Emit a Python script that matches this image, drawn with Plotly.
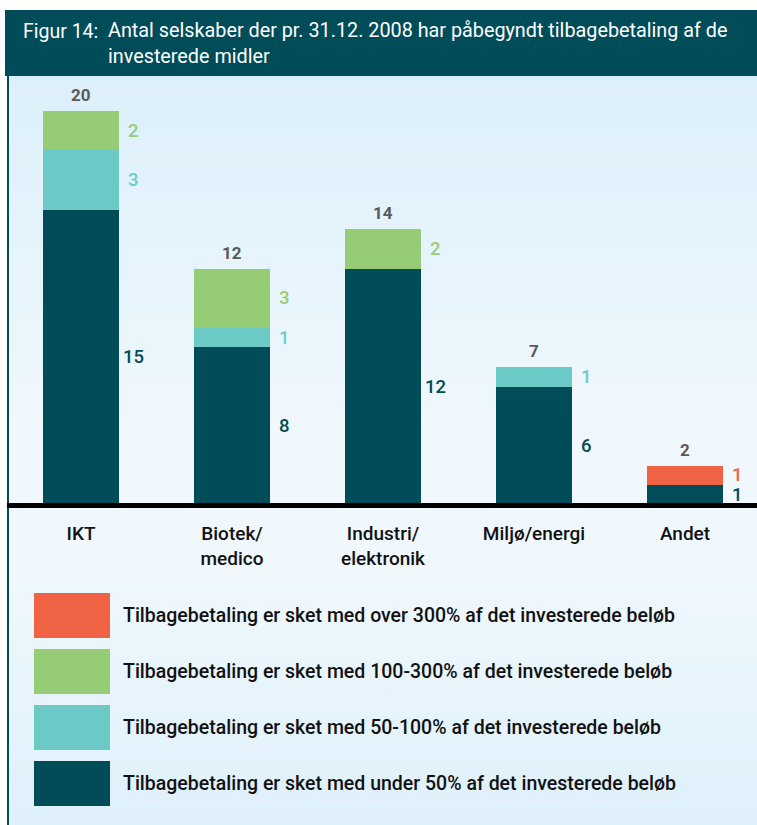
import plotly.graph_objects as go

# ---------------------------
# Data
# ---------------------------
categories = ["IKT", "Biotek/<br>medico", "Industri/<br>elektronik", "Miljø/energi", "Andet"]
under_50 = [15, 8, 12, 6, 1]
pct_50_100 = [3, 1, 0, 1, 0]
pct_100_300 = [2, 3, 2, 0, 0]
over_300 = [0, 0, 0, 0, 1]

series_names = [
    "Tilbagebetaling er sket med under 50% af det investerede beløb",
    "Tilbagebetaling er sket med 50-100% af det investerede beløb",
    "Tilbagebetaling er sket med 100-300% af det investerede beløb",
    "Tilbagebetaling er sket med over 300% af det investerede beløb",
]
series_values = [under_50, pct_50_100, pct_100_300, over_300]
series_colors = ["#004c59", "#6ccac6", "#97cc76", "#f06244"]

title_prefix = "Figur 14:"
title_text = "Antal selskaber der pr. 31.12. 2008 har påbegyndt tilbagebetaling af de<br>investerede midler"

W, H = 757, 825
FONT = "Roboto"
DARK = "#004c59"


def px(p):
    return p / W


def py(p):
    return 1 - p / H


totals = [sum(v) for v in zip(*series_values)]

fig = go.Figure()
for name, vals, col in zip(series_names, series_values, series_colors):
    fig.add_trace(go.Bar(x=categories, y=vals, name=name, marker=dict(color=col, line_width=0),
                         width=0.503, showlegend=False, hoverinfo="y"))

shapes = []
annotations = []

# background gradient (light blue top/bottom, paler middle)
stops = [(76, (220, 240, 251)), (450, (241, 248, 253)), (570, (240, 248, 253)), (825, (222, 240, 251))]
step = 8
y = 76
while y < 825:
    mid = y + step / 2
    for (a, ca), (b, cb) in zip(stops[:-1], stops[1:]):
        if a <= mid <= b:
            t = (mid - a) / (b - a)
            c = tuple(int(round(ca[k] + (cb[k] - ca[k]) * t)) for k in range(3))
            break
    shapes.append(dict(type="rect", xref="paper", yref="paper", x0=px(8), x1=1, y0=py(min(y + step, 825)), y1=py(y),
                       fillcolor=f"rgb{c}", line_width=0, layer="below"))
    y += step

# title bar + left frame line
shapes.append(dict(type="rect", xref="paper", yref="paper", x0=px(5), x1=1, y0=py(76), y1=py(10),
                   fillcolor=DARK, line_width=0, layer="above"))
shapes.append(dict(type="line", xref="paper", yref="paper", x0=px(8), x1=px(8), y0=0, y1=py(76),
                   line=dict(color=DARK, width=2)))
# baseline
shapes.append(dict(type="line", xref="paper", yref="paper", x0=px(7), x1=1, y0=py(505.5), y1=py(505.5),
                   line=dict(color="black", width=5), layer="above"))

annotations.append(dict(xref="paper", yref="paper", x=px(21), y=py(31), text=title_prefix, showarrow=False,
                        xanchor="left", yanchor="middle", font=dict(family=FONT, size=19.5, color="white")))
annotations.append(dict(xref="paper", yref="paper", x=px(106), y=py(17), text=title_text, showarrow=False,
                        xanchor="left", yanchor="top", align="left",
                        font=dict(family=FONT, size=19.8, color="white")))

# totals above bars
for i, t in enumerate(totals):
    annotations.append(dict(x=i, y=t, xref="x", yref="y", text=f"<b>{t}</b>", showarrow=False,
                            xanchor="center", yanchor="bottom", yshift=4,
                            font=dict(family=FONT, size=17, color="#595959")))

# segment labels right of bars
for i in range(len(categories)):
    base = 0
    for vals, col in zip(series_values, series_colors):
        v = vals[i]
        if v:
            annotations.append(dict(x=i + 0.2515, y=base + v / 2, xref="x", yref="y", text=str(v),
                                    showarrow=False, xanchor="center", yanchor="middle", xshift=15,
                                    font=dict(family=FONT, size=18.5, color=col, weight=500)))
        base += v

# legend drawn as big swatches
leg_top = [593, 649, 705, 761]
for top, name, col in zip(leg_top, series_names[::-1], series_colors[::-1]):
    shapes.append(dict(type="rect", xref="paper", yref="paper", x0=px(34), x1=px(110), y0=py(top + 45), y1=py(top),
                       fillcolor=col, line_width=0))
    annotations.append(dict(xref="paper", yref="paper", x=px(121), y=py(top + 22.5), text=name, showarrow=False,
                            xanchor="left", yanchor="middle",
                            font=dict(family=FONT, size=19.5, color="#111111", weight=500)))

ymax = (505 - 78) / 19.7
fig.update_layout(
    width=W, height=H,
    margin=dict(l=0, r=0, t=0, b=0),
    paper_bgcolor="white", plot_bgcolor="rgba(0,0,0,0)",
    barmode="stack", bargap=0.5,
    xaxis=dict(domain=[px(8), 1], range=[(8 - 81) / 151, (757 - 81) / 151], showgrid=False, zeroline=False,
               showline=False, ticks="", ticklabelstandoff=15,
               tickfont=dict(family=FONT, size=19, color="#111111", weight=500)),
    yaxis=dict(domain=[py(505), py(78)], range=[0, ymax], visible=False, showgrid=False, zeroline=False),
    shapes=shapes,
    annotations=annotations,
    showlegend=False,
)

fig.write_html("out.html", config={"displayModeBar": False},
               post_script="document.body.style.margin='0';document.body.style.overflow='hidden';")
